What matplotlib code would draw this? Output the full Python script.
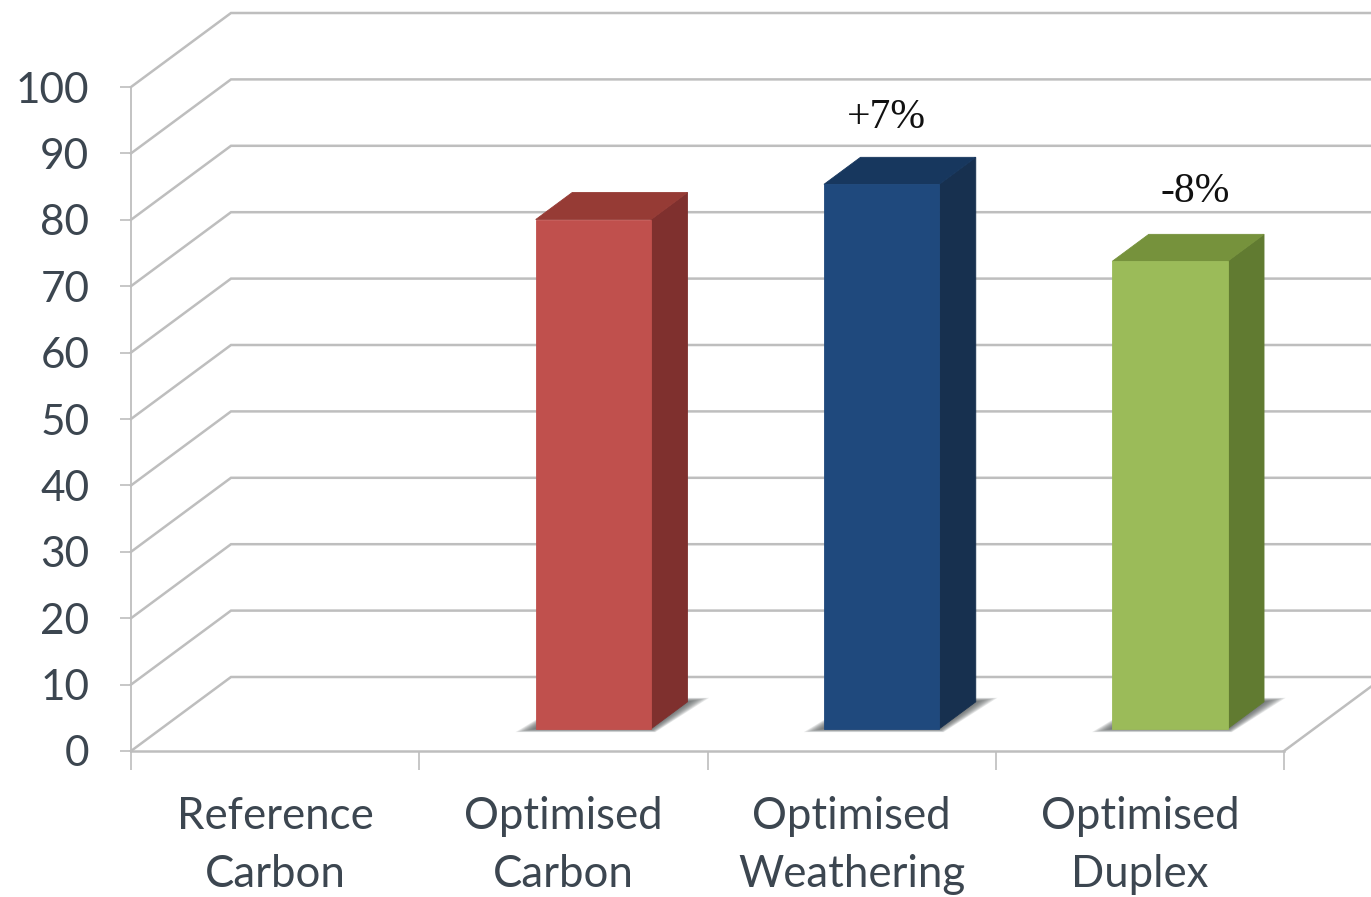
import matplotlib
matplotlib.use('Agg')
import matplotlib.pyplot as plt
from matplotlib.patches import Polygon

# Chart data
categories = ['Reference\nCarbon', 'Optimised\nCarbon', 'Optimised\nWeathering', 'Optimised\nDuplex']
values = [0, 76.7, 82.0, 70.4]
change_labels = [None, None, '+7%', '-8%']
y_ticks = [0, 10, 20, 30, 40, 50, 60, 70, 80, 90, 100]

# Colours for each bar: front, top, side
front_colors = [None, '#C0504D', '#1F497D', '#9BBB59']
top_colors = [None, '#963B35', '#17375E', '#76923C']
side_colors = [None, '#7F302E', '#17304F', '#617B31']

GRID = '#BEBEBE'
TEXT = '#3C4650'
W, H = 1371, 897

# Fake 3D: how far the back wall sits from the front plane, in data units
DEPTH_X = 100 / 288.25
DEPTH_Y = 74 / 6.64
BAR_WIDTH = 0.400
BAR_D0, BAR_D1 = 0.30, 0.665


def proj(x, v, d):
    return (x + d * DEPTH_X, v + d * DEPTH_Y)


fig = plt.figure(figsize=(W / 100, H / 100), dpi=100)
ax = fig.add_axes([131 / W, 1 - 751 / H, (1284 - 131) / W, (751 - 87) / H])
ax.set_xlim(0, 4)
ax.set_ylim(0, 100)
ax.patch.set_visible(False)

# Spines and ticks
for s in ['top', 'right']:
    ax.spines[s].set_visible(False)
ax.spines['left'].set_color(GRID)
ax.spines['left'].set_linewidth(1.3)
ax.spines['bottom'].set_color(GRID)
ax.spines['bottom'].set_linewidth(1.8)

ax.set_yticks(y_ticks)
ax.set_yticklabels([str(t) for t in y_ticks], fontsize=30.5, family='Lato', color=TEXT)
ax.tick_params(axis='y', length=8, width=1.2, color=GRID, pad=22)

ax.set_xticks(range(5))
ax.set_xticklabels([])
ax.tick_params(axis='x', which='major', length=14, width=1.2, color=GRID)
ax.set_xticks([i + 0.5 for i in range(4)], minor=True)
ax.set_xticklabels(categories, minor=True, fontsize=31.5, family='Lato', color=TEXT,
                   linespacing=1.5)
ax.tick_params(axis='x', which='minor', length=0, pad=32.5)

# Gridlines: a diagonal along the side wall, then across the back wall
for t in y_ticks:
    p0 = proj(0, t, 0)
    p1 = proj(0, t, 1)
    p2 = proj(4, t, 1)
    ax.plot([p0[0], p1[0], p2[0]], [p0[1], p1[1], p2[1]], color=GRID, lw=1.8,
            clip_on=False, zorder=1, solid_joinstyle='miter')

# Right edge of the floor
p0 = proj(4, 0, 0)
p1 = proj(4, 0, 1)
ax.plot([p0[0], p1[0]], [p0[1], p1[1]], color=GRID, lw=1.8, clip_on=False, zorder=1)

# Bars
for i, v in enumerate(values):
    if v == 0:
        continue
    x0 = i + 0.5 - BAR_WIDTH / 2
    x1 = i + 0.5 + BAR_WIDTH / 2

    # Soft floor shadow built up from stacked translucent polygons
    for k in range(10):
        grow = (10 - k) / 10
        pts = [proj(x0 - 0.07 * grow, -0.5 * grow, BAR_D0),
               proj(x1 + 0.015 * grow, -0.5 * grow, BAR_D0),
               proj(x1 + 0.075 * grow, 0.6 * grow, BAR_D1),
               proj(x0, 0.6 * grow, BAR_D1)]
        ax.add_patch(Polygon(pts, closed=True, fc='#4F5556', ec='none', alpha=0.13,
                             clip_on=False, zorder=2))

    front = [proj(x0, 0, BAR_D0), proj(x1, 0, BAR_D0), proj(x1, v, BAR_D0), proj(x0, v, BAR_D0)]
    side = [proj(x1, 0, BAR_D0), proj(x1, 0, BAR_D1), proj(x1, v, BAR_D1), proj(x1, v, BAR_D0)]
    top = [proj(x0, v, BAR_D0), proj(x1, v, BAR_D0), proj(x1, v, BAR_D1), proj(x0, v, BAR_D1)]
    ax.add_patch(Polygon(side, closed=True, fc=side_colors[i], ec=side_colors[i], lw=0.6,
                         clip_on=False, zorder=3))
    ax.add_patch(Polygon(top, closed=True, fc=top_colors[i], ec=top_colors[i], lw=0.6,
                         clip_on=False, zorder=3))
    ax.add_patch(Polygon(front, closed=True, fc=front_colors[i], ec=front_colors[i], lw=0.6,
                         clip_on=False, zorder=4))

# Percentage change labels above the bars
label_dx = [0, 0, 3, 18]
label_dy = [0, 0, 14.5, 16.5]
for i, lab in enumerate(change_labels):
    if lab is None:
        continue
    cx, cy = proj(i + 0.5, values[i], BAR_D1)
    ax.annotate(lab, xy=(cx - 0.125, cy), xytext=(label_dx[i], label_dy[i]),
                textcoords='offset points', ha='center', va='bottom', fontsize=30,
                family='Liberation Serif', color='#111111', annotation_clip=False, zorder=5)

fig.savefig('out.png', dpi=100, facecolor='white')
